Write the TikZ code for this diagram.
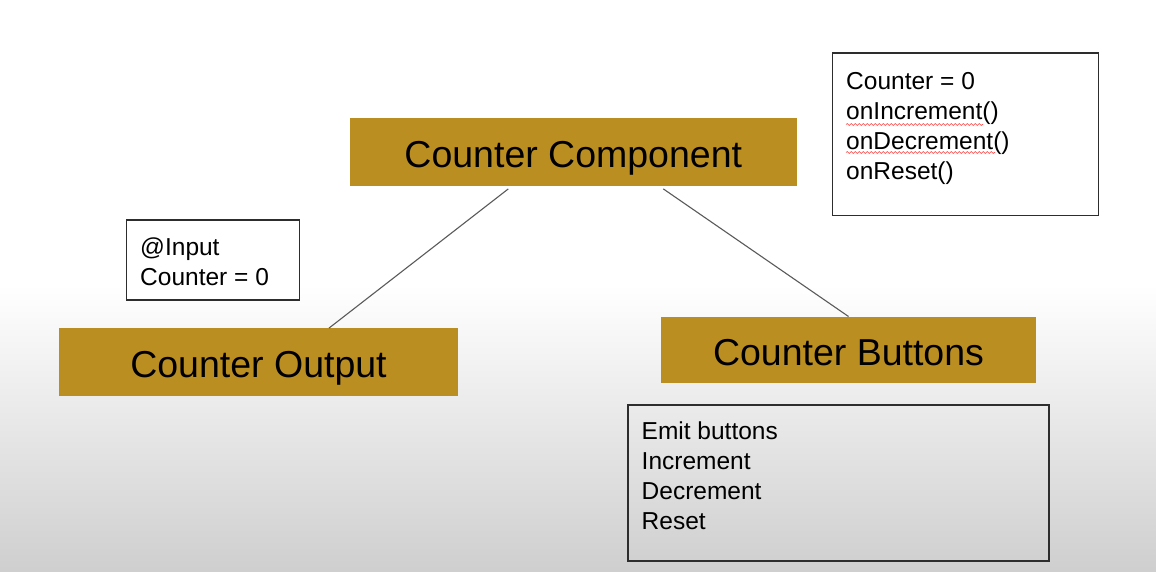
\documentclass[tikz,border=0pt]{standalone}
\usepackage{fontspec}
\setmainfont{Liberation Sans}
\usepackage{tikz}
\usetikzlibrary{positioning,decorations.pathmorphing}
\definecolor{gold}{RGB}{187,142,34}
\definecolor{frame}{RGB}{45,45,45}
\definecolor{link}{RGB}{90,90,90}

\begin{document}
\begin{tikzpicture}[x=1pt,y=-1pt,
    compbox/.style={fill=gold, inner sep=0pt, text height=31pt, text depth=0pt,
        font=\fontsize{37.5}{44}\selectfont},
    notebox/.style={draw=frame, line width=1.5pt, inner sep=0pt, anchor=north west},
    notetext/.style={align=left, inner sep=0pt, anchor=north west,
        font=\fontsize{24.5}{30}\selectfont},
    link/.style={draw=link, line width=1.1pt},
    typo/.style={draw=red!75, line width=0.6pt,
        decorate, decoration={snake, amplitude=0.9pt, segment length=4pt}}]
    \useasboundingbox (0,0) rectangle (1156,572);
    \fill[white] (0,0) rectangle (1156,572);
    \shade[top color=white, bottom color=black!19] (0,285) rectangle (1156,572);

    % the three components
    \node[compbox, minimum width=446.7pt, minimum height=67.4pt] (comp) at (573.3,152) {Counter Component};
    \node[compbox, minimum width=399pt, minimum height=67.4pt] (output) at (258.5,362) {Counter Output};
    \node[compbox, minimum width=375pt, minimum height=66.6pt] (buttons) at (848.5,350) {Counter Buttons};

    % notes
    \node[notebox, fill=white, minimum width=266pt, minimum height=162.5pt] (state) at (831.5,52.3) {};
    \node[notetext] (statetxt) at (846,72.5) {Counter = 0\\ onIncrement()\\ onDecrement()\\ onReset()};
    \draw[typo] ([yshift=-52pt]statetxt.north west) -- ++(137,0);
    \draw[typo] ([yshift=-80pt]statetxt.north west) -- ++(149,0);

    \node[notebox, fill=white, minimum width=173pt, minimum height=80pt] (input) at (125.8,219) {};
    \node[notetext] (inputtxt) at (140,237.5) {@Input\\ Counter = 0};

    \node[notebox, minimum width=421pt, minimum height=156pt] (emit) at (627.3,404) {};
    \node[notetext] (emittxt) at (641.5,422) {Emit buttons\\ Increment\\ Decrement\\ Reset};

    % links
    \draw[link] ([xshift=-65pt,yshift=-3pt]comp.south) -- ([xshift=70.5pt]output.north);
    \draw[link] ([xshift=90pt,yshift=-3pt]comp.south) -- (buttons.north);
\end{tikzpicture}
\end{document}
